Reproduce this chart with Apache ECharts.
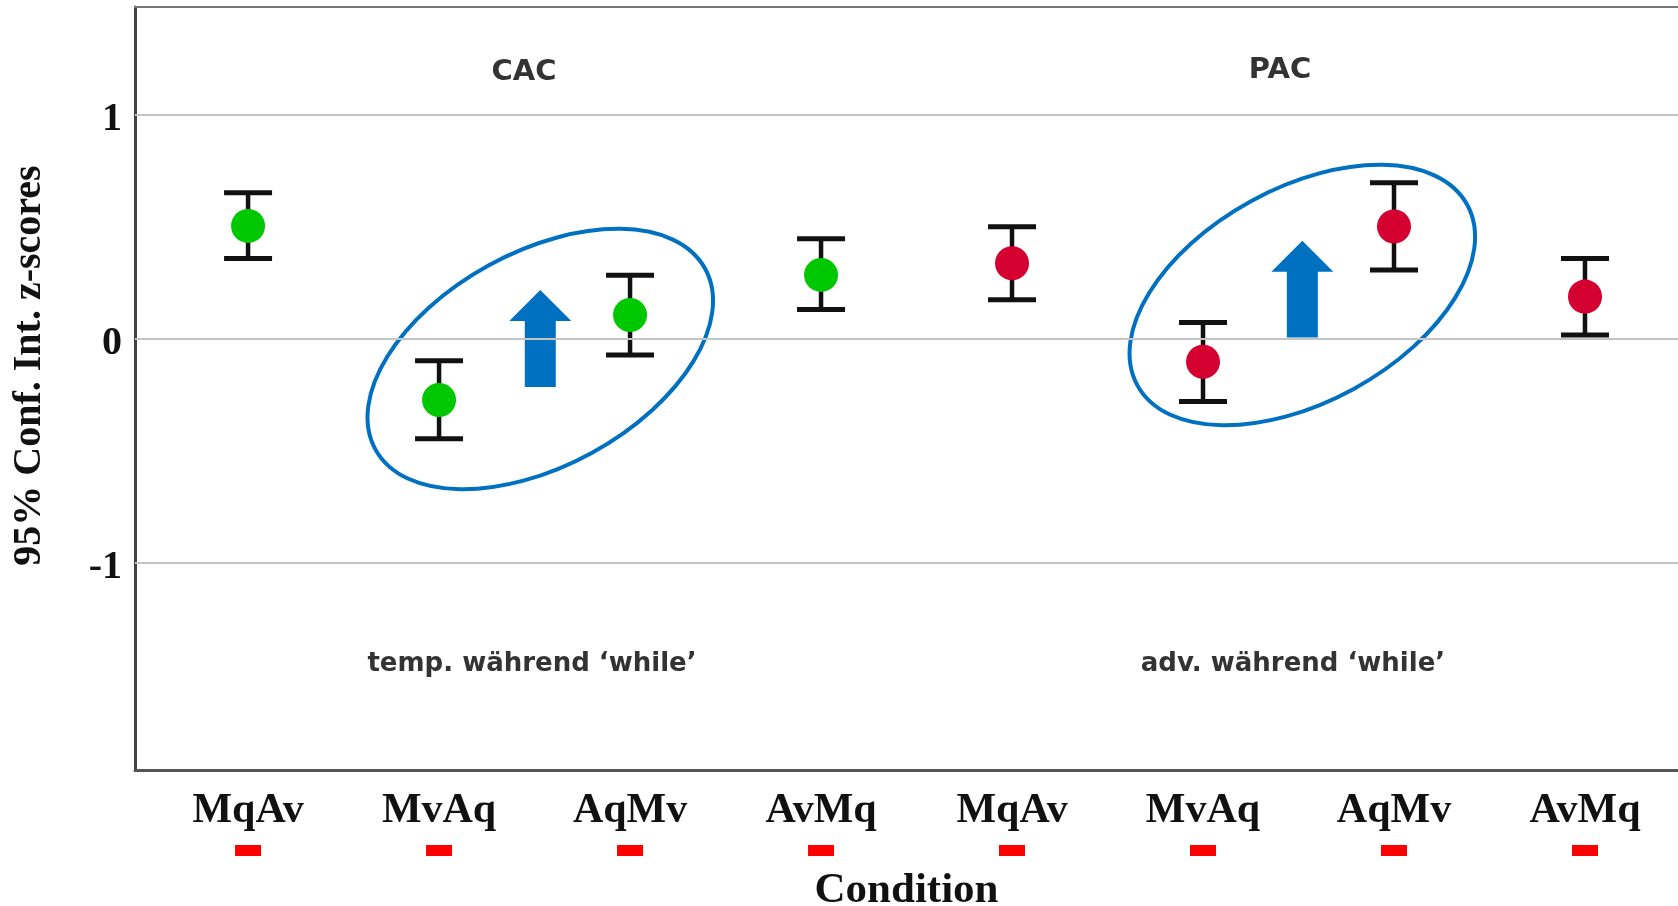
<!DOCTYPE html>
<html><head><meta charset="utf-8">
<script src="https://cdn.jsdelivr.net/npm/echarts@6/dist/echarts.min.js"></script>
<style>html,body{margin:0;padding:0;background:#fff}#c{width:1678px;height:906px}</style>
</head><body><div id="c"></div>
<script>
// ---- data ----
const categories = ['MqAv', 'MvAq', 'AqMv', 'AvMq', 'MqAv', 'MvAq', 'AqMv', 'AvMq'];
const groups     = ['CAC', 'CAC', 'CAC', 'CAC', 'PAC', 'PAC', 'PAC', 'PAC'];
const means      = [0.503, -0.275, 0.105, 0.284, 0.336, -0.104, 0.500, 0.187];
const lower      = [0.357, -0.448, -0.074, 0.130, 0.173, -0.282, 0.306, 0.016];
const upper      = [0.651, -0.099, 0.282, 0.446, 0.499, 0.071, 0.696, 0.357];
const yTicks     = [-1, 0, 1];
const groupLabels = ['CAC', 'PAC'];
const groupNotes  = ['temp. während ‘while’', 'adv. während ‘while’'];
// annotation anchors in data units
const ellipseCenters = [[1.53, -0.092], [5.52, 0.194]];      // [x, y]
const arrowSpans     = [[1.53, -0.217, 0.217], [5.52, 0.004, 0.437]]; // [x, bottom, tip]

const GREEN = '#00c800', RED = '#d4002f', BLUE = '#0070c0';
const X_MIN = -0.592, X_MAX = 7.487, Y_MIN = -1.928, Y_MAX = 1.481;

const chart = echarts.init(document.getElementById('c'), null, {renderer: 'canvas'});

const serif = 'Liberation Serif';

const txt = (s, x, y, font) => ({
  type: 'text', x: x, y: y,
  style: {text: s, font: font, fill: '#333',
          align: 'center', verticalAlign: 'middle', textAlign: 'center', textVerticalAlign: 'middle'}
});

const option = {
  animation: false,
  backgroundColor: '#fff',
  grid: {left: 135, right: 0, top: 7, bottom: 136, outerBoundsMode: 'none'},
  xAxis: [{
    type: 'value', min: X_MIN, max: X_MAX, position: 'bottom',
    axisLine: {show: true, onZero: false, lineStyle: {color: '#555', width: 3}},
    axisTick: {show: false},
    splitLine: {show: false},
    axisLabel: {
      customValues: categories.map((c, i) => i),
      margin: 18,
      formatter: v => '{a|' + categories[Math.round(v)] + '}\n{d| }',
      rich: {
        a: {fontFamily: serif, fontWeight: 'bold', fontSize: 42, lineHeight: 46, color: '#111'},
        d: {width: 26, height: 11, lineHeight: 33, backgroundColor: '#ff0000'}
      }
    },
    name: 'Condition', nameLocation: 'middle', nameGap: 99,
    nameTextStyle: {fontFamily: serif, fontWeight: 'bold', fontSize: 43, color: '#111'}
  }, {
    type: 'value', min: X_MIN, max: X_MAX, position: 'top',
    axisLine: {show: true, onZero: false, lineStyle: {color: '#777', width: 2}},
    axisTick: {show: false}, axisLabel: {show: false}, splitLine: {show: false}
  }],
  yAxis: {
    type: 'value', min: Y_MIN, max: Y_MAX,
    axisLine: {show: true, onZero: false, lineStyle: {color: '#444', width: 3}},
    axisTick: {show: false},
    splitLine: {show: false},
    axisLabel: {
      customValues: yTicks, margin: 13,
      fontFamily: serif, fontWeight: 'bold', fontSize: 40, color: '#111',
      verticalAlign: 'top', lineHeight: 10
    }
  },
  graphic: [
    {type: 'text', x: 29.5, y: 365.5, rotation: Math.PI / 2,
     style: {text: '95% Conf. Int. z-scores', font: 'bold 40px "Liberation Serif"', fill: '#111',
             align: 'center', verticalAlign: 'middle', textAlign: 'center', textVerticalAlign: 'middle'}},
    txt(groupLabels[0], 524, 72, 'bold 29px "DejaVu Sans"'),
    txt(groupLabels[1], 1280, 70, 'bold 29px "DejaVu Sans"'),
    txt(groupNotes[0], 532, 664, 'bold 26px "DejaVu Sans"'),
    txt(groupNotes[1], 1293, 664, 'bold 26px "DejaVu Sans"')
  ],
  series: [
    {
      name: 'grid', type: 'line', data: [], z: 1, silent: true,
      markLine: {
        silent: true, symbol: 'none', animation: false,
        label: {show: false},
        lineStyle: {color: '#c4c4c4', width: 2, type: 'solid'},
        data: yTicks.map(v => ({yAxis: v}))
      }
    },
    {
      name: 'ellipses', type: 'custom', z: 2, silent: true,
      data: ellipseCenters,
      renderItem: (params, api) => {
        const p = api.coord([api.value(0), api.value(1)]);
        return {
          type: 'ellipse', x: p[0], y: p[1], rotation: 28.7 * Math.PI / 180,
          shape: {cx: 0, cy: 0, rx: 188, ry: 107},
          style: {fill: 'none', stroke: BLUE, lineWidth: 4}
        };
      }
    },
    {
      name: 'arrows', type: 'custom', z: 2, silent: true,
      data: arrowSpans,
      renderItem: (params, api) => {
        const b = api.coord([api.value(0), api.value(1)]);
        const t = api.coord([api.value(0), api.value(2)]);
        const cx = t[0], hh = 31, hw = 31, sw = 15.5;
        return {
          type: 'polygon',
          shape: {points: [[cx, t[1]], [cx + hw, t[1] + hh], [cx + sw, t[1] + hh], [cx + sw, b[1]],
                           [cx - sw, b[1]], [cx - sw, t[1] + hh], [cx - hw, t[1] + hh]]},
          style: {fill: BLUE}
        };
      }
    },
    {
      name: 'CI', type: 'custom', z: 3, silent: true,
      data: categories.map((c, i) => [i, lower[i], upper[i]]),
      renderItem: (params, api) => {
        const x = api.value(0);
        const lo = api.coord([x, api.value(1)]);
        const hi = api.coord([x, api.value(2)]);
        const cw = 24;
        const st = {stroke: '#111', lineWidth: 5};
        return {type: 'group', children: [
          {type: 'line', shape: {x1: lo[0], y1: lo[1], x2: hi[0], y2: hi[1]}, style: {stroke: '#111', lineWidth: 4.5}},
          {type: 'line', shape: {x1: hi[0] - cw, y1: hi[1], x2: hi[0] + cw, y2: hi[1]}, style: st},
          {type: 'line', shape: {x1: lo[0] - cw, y1: lo[1], x2: lo[0] + cw, y2: lo[1]}, style: st}
        ]};
      }
    },
    {
      name: 'mean', type: 'scatter', z: 4, symbol: 'circle', symbolSize: 34,
      data: means.map((m, i) => [i, m]),
      itemStyle: {color: p => groups[p.dataIndex] === 'CAC' ? GREEN : RED, opacity: 1}
    }
  ]
};
chart.setOption(option);
</script>
</body></html>
